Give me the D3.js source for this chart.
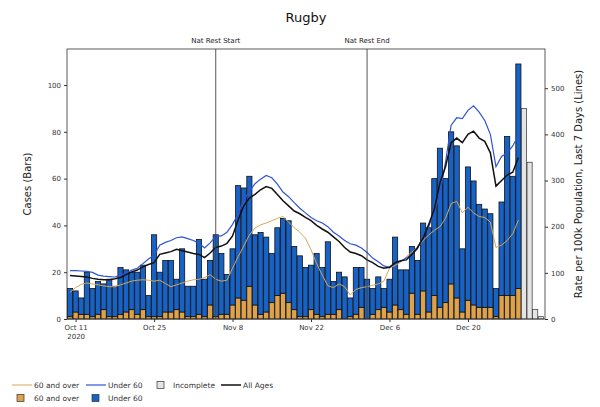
<!DOCTYPE html>
<html>
<head>
<meta charset="utf-8">
<script src="https://cdn.jsdelivr.net/npm/d3@7"></script>
<style>
    body {margin: 0; background: #ffffff;}
    svg {display: block; font-family: "DejaVu Sans", sans-serif;}
</style>
</head>
<body>
<div id="chart"></div>
<script>
// daily cases from 10 Oct 2020, stacked bars
var firstDay = '2020-10-10';
var over60Cases = [1, 3, 2, 2, 1, 2, 4, 1, 1, 2, 3, 4, 2, 4, 1, 1, 1, 3, 3, 4,
    3, 1, 1, 2, 1, 6, 1, 2, 2, 6, 9, 8, 14, 6, 2, 3, 7, 10, 11, 7,
    4, 1, 1, 4, 2, 1, 2, 2, 4, 0, 1, 2, 5, 0, 2, 4, 5, 3, 6, 4,
    2, 11, 2, 12, 3, 10, 5, 7, 15, 9, 3, 8, 6, 5, 5, 5, 1, 10, 10, 10, 13];
var under60Cases = [12, 9, 7, 18, 12, 14, 11, 16, 13, 20, 18, 16, 18, 19, 9, 35, 19, 22, 22, 13,
    27, 13, 13, 32, 16, 19, 35, 26, 17, 24, 48, 48, 47, 30, 35, 32, 21, 29, 32, 35,
    27, 26, 21, 19, 26, 21, 31, 14, 16, 18, 8, 20, 17, 17, 11, 14, 8, 14, 29, 17,
    19, 20, 23, 29, 36, 50, 68, 53, 65, 65, 27, 57, 53, 44, 42, 40, 12, 40, 68, 51, 96];
// last days, not complete yet
var incompleteCases = [90, 67, 4, 1];
// rate per 100k, last 7 days (same days as the bars)
var rateOver60 = [58, 68, 75, 78, 76, 74, 72, 70, 70, 74, 78, 82, 84, 85, 84, 82, 84, 77, 70, 74,
    78, 82, 85, 86, 90, 96, 86, 82, 84, 110, 135, 158, 182, 197, 204, 208, 213, 218, 222, 210,
    198, 188, 175, 150, 120, 95, 72, 68, 76, 70, 52, 64, 68, 70, 73, 76, 82, 110, 116, 123,
    135, 145, 155, 170, 182, 192, 200, 218, 250, 255, 230, 242, 230, 222, 220, 210, 155, 160, 170, 185, 214];
var rateUnder60 = [105, 105, 104, 103, 101, 95, 93, 92, 91, 95, 99, 106, 110, 120, 130, 138, 160, 166, 170, 176,
    178, 174, 170, 164, 154, 165, 179, 180, 188, 205, 228, 258, 276, 293, 303, 311, 306, 292, 275, 265,
    252, 240, 230, 220, 213, 208, 200, 188, 180, 170, 163, 160, 154, 144, 132, 124, 115, 112, 120, 125,
    132, 140, 152, 180, 200, 232, 272, 340, 420, 436, 434, 452, 462, 448, 430, 400, 330, 352, 360, 375, 398];
var rateAllAges = [94, 93, 92, 91, 88, 86, 85, 85, 87, 90, 96, 102, 106, 113, 118, 122, 140, 143, 146, 151,
    148, 145, 142, 140, 133, 143, 155, 158, 164, 180, 215, 245, 262, 270, 280, 287, 283, 270, 256, 245,
    234, 228, 220, 213, 203, 195, 188, 178, 168, 155, 145, 142, 137, 128, 122, 114, 110, 112, 122, 126,
    128, 140, 155, 175, 205, 238, 295, 330, 382, 392, 382, 400, 407, 392, 385, 360, 288, 300, 312, 318, 350];
var xTickDays = ['2020-10-11', '2020-10-25', '2020-11-08', '2020-11-22', '2020-12-06', '2020-12-20'];
var leftTicks = [0, 20, 40, 60, 80, 100];
var rightTicks = [0, 100, 200, 300, 400, 500];
var restDays = ['2020-11-05', '2020-12-02'];
var restLabels = ['Nat Rest Start', 'Nat Rest End'];

var colOver = '#dea24a', colUnder = '#1762c6', colLineOver = '#d6a656', colLineUnder = '#2f55d4';

drawChart('chart');
function drawChart(divName) {
    var svgwidth = 600, svgheight = 407;
    var _margin = {top: 49, left: 67, right: 55, bottom: 88};
    var _svg = d3.select('#' + divName).append('svg')
        .attr('width', svgwidth)
        .attr('height', svgheight);
    var parse = d3.utcParse('%Y-%m-%d');
    var day0 = parse(firstDay);
    var dates = over60Cases.map(function (d, i) { return d3.utcDay.offset(day0, i); });
    var rows = dates.map(function (d, i) {
        return {date: d, over60: over60Cases[i], under60: under60Cases[i]};
    });
    var incRows = incompleteCases.map(function (v, i) {
        return {date: d3.utcDay.offset(day0, dates.length + i), value: v};
    });
    var bottom = svgheight - _margin.bottom, right = svgwidth - _margin.right;
    // x domain a little wider than the bars, like matplotlib
    var ref = parse(xTickDays[0]);
    var x = d3.scaleUtc()
        .domain([d3.utcHour.offset(ref, -37), d3.utcHour.offset(ref, 2010)])
        .range([_margin.left, right]);
    var dayW = x(dates[1]) - x(dates[0]);
    var barW = dayW * 0.92;
    var yL = d3.scaleLinear().domain([0, 115.4]).range([bottom, _margin.top]);
    var yR = d3.scaleLinear().domain([0, 585]).range([bottom, _margin.top]);

    //title
    _svg.append('text')
        .attr('x', (_margin.left + right) / 2)
        .attr('y', 22)
        .attr('text-anchor', 'middle')
        .style('font-size', '13px')
        .attr('fill', '#111')
        .text('Rugby');

    //stacked bars
    var stack = d3.stack().keys(['over60', 'under60'])(rows);
    var fills = [colOver, colUnder];
    _svg.append('g').selectAll('g')
        .data(stack)
        .enter().append('g')
        .attr('fill', function (d, i) { return fills[i]; })
        .selectAll('rect')
        .data(function (d) { return d; })
        .enter().append('rect')
        .attr('x', function (d) { return x(d.data.date) - barW / 2; })
        .attr('y', function (d) { return yL(d[1]); })
        .attr('width', barW)
        .attr('height', function (d) { return yL(d[0]) - yL(d[1]); })
        .attr('stroke', '#111')
        .attr('stroke-width', 0.8);
    _svg.append('g').selectAll('rect')
        .data(incRows)
        .enter().append('rect')
        .attr('x', function (d) { return x(d.date) - barW / 2; })
        .attr('y', function (d) { return yL(d.value); })
        .attr('width', barW)
        .attr('height', function (d) { return yL(0) - yL(d.value); })
        .attr('fill', '#e4e4e4')
        .attr('stroke', '#333')
        .attr('stroke-width', 0.7);

    //lines on the right axis
    var series = [[rateOver60, colLineOver, 1], [rateUnder60, colLineUnder, 1.2], [rateAllAges, '#111', 1.5]];
    series.forEach(function (s) {
        var line = d3.line()
            .x(function (d, i) { return x(dates[i]); })
            .y(function (d) { return yR(d); });
        _svg.append('path')
            .datum(s[0])
            .attr('d', line)
            .attr('fill', 'none')
            .attr('stroke', s[1])
            .attr('stroke-width', s[2]);
    });

    //national restriction markers
    restDays.forEach(function (d, i) {
        var xx = x(parse(d));
        _svg.append('line')
            .attr('x1', xx).attr('x2', xx)
            .attr('y1', _margin.top).attr('y2', bottom)
            .attr('stroke', '#444').attr('stroke-width', 0.9);
        _svg.append('text')
            .attr('x', xx).attr('y', 43)
            .attr('text-anchor', 'middle')
            .style('font-size', '7px')
            .attr('fill', '#222')
            .text(restLabels[i]);
    });

    //frame
    _svg.append('rect')
        .attr('x', _margin.left).attr('y', _margin.top)
        .attr('width', right - _margin.left).attr('height', bottom - _margin.top)
        .attr('fill', 'none').attr('stroke', '#333').attr('stroke-width', 0.8);

    //axes
    var xAxis = _svg.append('g')
        .attr('transform', 'translate(0,' + bottom + ')')
        .call(d3.axisBottom(x).tickValues(xTickDays.map(parse))
            .tickFormat(d3.utcFormat('%b %-d')).tickSize(3).tickPadding(3));
    xAxis.select('.domain').remove();
    xAxis.select('.tick text').append('tspan')
        .attr('x', 0).attr('dy', '1.3em').text('2020');
    var lAxis = _svg.append('g')
        .attr('transform', 'translate(' + _margin.left + ',0)')
        .call(d3.axisLeft(yL).tickValues(leftTicks).tickSize(3).tickPadding(3));
    lAxis.select('.domain').remove();
    var rAxis = _svg.append('g')
        .attr('transform', 'translate(' + right + ',0)')
        .call(d3.axisRight(yR).tickValues(rightTicks).tickSize(3).tickPadding(3));
    rAxis.select('.domain').remove();
    _svg.selectAll('.tick text').style('font-size', '7px').attr('fill', '#333')
        .style('font-family', '"DejaVu Sans", sans-serif');
    _svg.selectAll('.tick line').attr('stroke', '#333');

    //axis titles
    _svg.append('text')
        .attr('transform', 'translate(31,' + (_margin.top + bottom) / 2 + ') rotate(-90)')
        .attr('text-anchor', 'middle')
        .style('font-size', '10px')
        .attr('fill', '#222')
        .text('Cases (Bars)');
    _svg.append('text')
        .attr('transform', 'translate(582,' + (_margin.top + bottom) / 2 + ') rotate(-90)')
        .attr('text-anchor', 'middle')
        .style('font-size', '10px')
        .attr('fill', '#222')
        .text('Rate per 100k Population, Last 7 Days (Lines)');

    //legend
    var _leg = _svg.append('g').style('font-size', '7.5px').attr('fill', '#333');
    var legLines = [[12, 385, colLineOver, 1, '60 and over'], [86, 385, colLineUnder, 1.2, 'Under 60'],
        [221, 385, '#111', 1.5, 'All Ages']];
    legLines.forEach(function (l) {
        _leg.append('line').attr('x1', l[0]).attr('x2', l[0] + 20)
            .attr('y1', l[1]).attr('y2', l[1])
            .attr('stroke', l[2]).attr('stroke-width', l[3]);
        _leg.append('text').attr('x', l[0] + 22).attr('y', l[1] + 2.6).text(l[4]);
    });
    var legBoxes = [[157, 385, '#e4e4e4', 'Incomplete', 173], [17, 398, colOver, '60 and over', 34],
        [92, 398, colUnder, 'Under 60', 108]];
    legBoxes.forEach(function (b) {
        _leg.append('rect').attr('x', b[0]).attr('y', b[1] - 3.5)
            .attr('width', 7).attr('height', 7)
            .attr('fill', b[2]).attr('stroke', '#333').attr('stroke-width', 0.7);
        _leg.append('text').attr('x', b[4]).attr('y', b[1] + 2.6).text(b[3]);
    });
}
</script>
</body>
</html>
